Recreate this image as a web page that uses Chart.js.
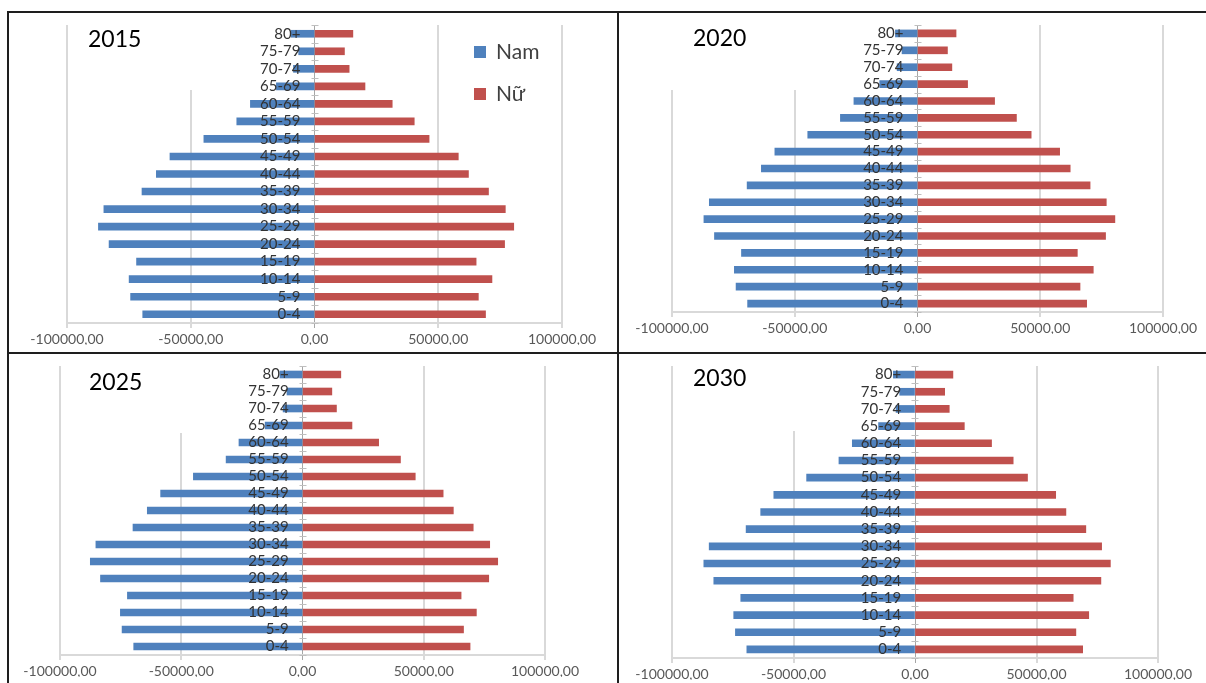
<!DOCTYPE html>
<html lang="vi">
<head>
<meta charset="utf-8">
<title>Tháp dân số 2015 - 2030</title>
<script src="https://cdn.jsdelivr.net/npm/chart.js@4.4.1/dist/chart.umd.min.js"></script>
<style>
    html, body { margin: 0; padding: 0; background: #fff; }
    body { position: relative; width: 1206px; height: 683px; overflow: hidden; font-family: Lato, sans-serif; }
    canvas { position: absolute; }
    .line { position: absolute; background: #1e1e1e; }
</style>
</head>
<body>
<div class="line" style="left:7px;top:11px;width:2px;height:672px;"></div>
<div class="line" style="left:7px;top:11px;width:1199px;height:2px;"></div>
<div class="line" style="left:617px;top:11px;width:2px;height:672px;"></div>
<div class="line" style="left:7px;top:352px;width:1199px;height:2px;"></div>

<canvas id="chart2015" width="608" height="339" style="left:9px;top:13px;"></canvas>
<canvas id="chart2020" width="587" height="339" style="left:619px;top:13px;"></canvas>
<canvas id="chart2025" width="608" height="329" style="left:9px;top:354px;"></canvas>
<canvas id="chart2030" width="587" height="329" style="left:619px;top:354px;"></canvas>

<script>
// Nhóm tuổi (từ trên xuống)
const ageGroups = ['80+', '75-79', '70-74', '65-69', '60-64', '55-59', '50-54', '45-49',
                   '40-44', '35-39', '30-34', '25-29', '20-24', '15-19', '10-14', '5-9', '0-4'];

const xTicks = [-100000, -50000, 0, 50000, 100000];

// Nam (âm) / Nữ (dương) theo năm
const nam2015 = [-9400, -6400, -8500, -15400, -25900, -31400, -44700, -58400, -63900, -69700, -85100, -87300, -83000, -71900, -74900, -74300, -69400];
const nu2015  = [15500, 12100, 14000, 20400, 31400, 40300, 46300, 58100, 62200, 70300, 77100, 80500, 76800, 65300, 71700, 66200, 69100];

const nam2020 = [-9000, -6300, -8300, -15400, -25900, -31400, -44700, -58100, -63600, -69400, -84800, -87000, -82700, -71700, -74600, -73900, -69200];
const nu2020  = [15700, 12200, 14000, 20400, 31400, 40300, 46300, 57900, 62200, 70300, 76900, 80400, 76600, 65100, 71600, 66200, 68900];

const nam2025 = [-9300, -6400, -8000, -15400, -26200, -31500, -45000, -58500, -64000, -69900, -85200, -87500, -83300, -72200, -75100, -74400, -69600];
const nu2025  = [15800, 12100, 14000, 20400, 31400, 40400, 46500, 58000, 62200, 70400, 77200, 80500, 76800, 65400, 71700, 66400, 69100];

const nam2030 = [-8900, -6300, -7800, -15000, -25800, -31300, -44600, -58100, -63500, -69500, -84700, -86900, -82800, -71700, -74600, -73900, -69200];
const nu2030  = [15600, 12200, 14100, 20300, 31500, 40400, 46300, 57900, 62100, 70300, 76800, 80400, 76500, 65100, 71500, 66200, 69000];

const COLOR_NAM = '#4F81BD';
const COLOR_NU = '#C0504D';

// Ô tiêu đề (năm) có nền trắng, che một phần lưới như trong Excel
const titleBoxPlugin = {
    id: 'titleBox',
    beforeDatasetsDraw(chart, args, opts) {
        if (!opts || !opts.text) return;
        const ctx = chart.ctx;
        ctx.save();
        ctx.fillStyle = '#fff';
        ctx.fillRect(opts.left, 0, opts.right - opts.left, opts.bottom);
        ctx.fillStyle = '#000';
        ctx.font = '23px Lato, sans-serif';
        ctx.textBaseline = 'middle';
        ctx.textAlign = 'left';
        ctx.fillText(opts.text, opts.x, opts.y);
        ctx.restore();
    }
};

// Vạch chia nhỏ trên trục 0 (giữa các nhóm tuổi)
const zeroTicksPlugin = {
    id: 'zeroTicks',
    beforeDatasetsDraw(chart) {
        const { ctx, scales: { x, y } } = chart;
        const x0 = Math.round(x.getPixelForValue(0)) + 0.5;
        const step = (y.bottom - y.top) / ageGroups.length;
        ctx.save();
        ctx.strokeStyle = '#bfbfbf';
        ctx.lineWidth = 1;
        ctx.beginPath();
        for (let i = 0; i <= ageGroups.length; i++) {
            const yy = Math.round(y.top + i * step) + 0.5;
            ctx.moveTo(x0 - 4, yy);
            ctx.lineTo(x0 + 3, yy);
        }
        ctx.stroke();
        ctx.restore();
    }
};

// Chú thích vẽ trong vùng biểu đồ (chỉ ở 2015)
const innerLegendPlugin = {
    id: 'innerLegend',
    afterDraw(chart, args, opts) {
        if (!opts || !opts.show) return;
        const ctx = chart.ctx;
        ctx.save();
        ctx.font = '21px Lato, sans-serif';
        ctx.textBaseline = 'middle';
        chart.data.datasets.forEach((ds, i) => {
            const y = opts.y + i * opts.gap;
            ctx.fillStyle = ds.backgroundColor;
            ctx.fillRect(opts.x, y - 6, 12, 12);
            ctx.fillStyle = '#404040';
            ctx.fillText(ds.label, opts.x + 22, y);
        });
        ctx.restore();
    }
};

function makePyramid(id, year, nam, nu, pad, box, legend) {
    const ctx = document.getElementById(id);
    return new Chart(ctx, {
        type: 'bar',
        data: {
            labels: ageGroups,
            datasets: [
                { label: 'Nam', data: nam, backgroundColor: COLOR_NAM, borderWidth: 0, barThickness: 7 },
                { label: 'Nữ', data: nu, backgroundColor: COLOR_NU, borderWidth: 0, barThickness: 7 }
            ]
        },
        options: {
            indexAxis: 'y',
            responsive: false,
            animation: false,
            devicePixelRatio: 1,
            layout: { padding: pad },
            plugins: {
                legend: { display: false },
                tooltip: { enabled: false },
                titleBox: Object.assign({ text: year }, box),
                innerLegend: legend || { show: false }
            },
            scales: {
                x: {
                    type: 'linear',
                    stacked: true,
                    min: xTicks[0],
                    max: xTicks[xTicks.length - 1],
                    afterBuildTicks: s => { s.ticks = xTicks.map(v => ({ value: v })); },
                    afterFit: s => { s.height = 22; },
                    grid: {
                        color: c => (c.tick && c.tick.value === 0) ? '#a6a6a6' : '#d9d9d9',
                        lineWidth: c => (c.tick && c.tick.value === 0) ? 1 : 2,
                        tickLength: 5
                    },
                    border: { color: '#d9d9d9', width: 2 },
                    ticks: {
                        color: '#595959',
                        padding: 3,
                        maxRotation: 0,
                        font: { family: 'Lato', size: 14 },
                        callback: v => v.toFixed(2).replace('.', ',')
                    }
                },
                y: {
                    type: 'category',
                    stacked: true,
                    // nhãn nằm sát trục 0, lùi sang trái một chút
                    position: { x: -5700 },
                    grid: { display: false },
                    border: { display: false },
                    ticks: {
                        z: 1,
                        autoSkip: false,
                        color: '#333333',
                        font: { family: 'Lato', size: 15 }
                    }
                }
            }
        },
        plugins: [titleBoxPlugin, zeroTicksPlugin, innerLegendPlugin]
    });
}

makePyramid('chart2015', '2015', nam2015, nu2015,
    { left: 58, right: 55, top: 10, bottom: 7 },
    { x: 79, y: 27, left: 62, right: 245, bottom: 77 },
    { show: true, x: 465, y: 39, gap: 42 });

makePyramid('chart2020', '2020', nam2020, nu2020,
    { left: 53, right: 43, top: 7, bottom: 18 },
    { x: 74, y: 26, left: 45, right: 240, bottom: 77 });

makePyramid('chart2025', '2025', nam2025, nu2025,
    { left: 51, right: 72, top: 8, bottom: 6 },
    { x: 80, y: 29, left: 56, right: 230, bottom: 79 });

makePyramid('chart2030', '2030', nam2030, nu2030,
    { left: 53, right: 48, top: 11, bottom: 3 },
    { x: 74, y: 25, left: 58, right: 235, bottom: 77 });
</script>
</body>
</html>
